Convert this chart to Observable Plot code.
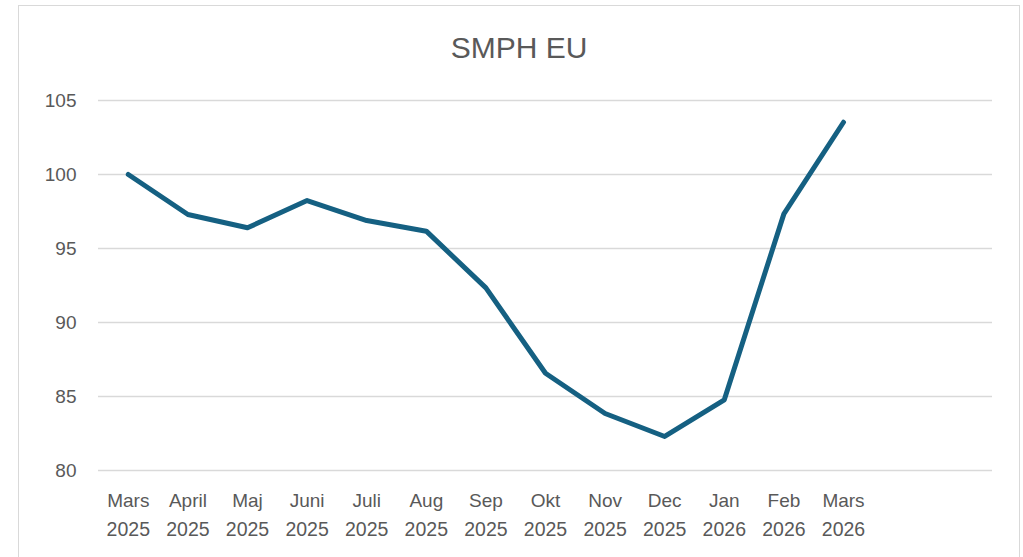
<!DOCTYPE html>
<html>
<head>
<meta charset="utf-8">
<script src="https://cdn.jsdelivr.net/npm/d3@7"></script>
<script src="https://cdn.jsdelivr.net/npm/@observablehq/plot@0.6"></script>
<style>
  html, body { margin: 0; padding: 0; background: #fff; width: 1023px; height: 557px; overflow: hidden; }
  #frame { position: absolute; left: 18px; top: 5px; width: 1002px; height: 570px; box-sizing: border-box; border: 1.5px solid #d9d9d9; background: #fff; }
  #title { position: absolute; left: 0; top: 25px; width: 1000px; text-align: center; font-family: "Liberation Sans", Arial, sans-serif; font-size: 30px; color: #595959; line-height: 34px; }
  #chart { position: absolute; left: 0; top: 65px; }
</style>
</head>
<body>
<div id="frame">
  <div id="title">SMPH EU</div>
  <div id="chart"></div>
</div>
<script>
const months = ["Mars", "April", "Maj", "Juni", "Juli", "Aug", "Sep", "Okt", "Nov", "Dec", "Jan", "Feb", "Mars"];
const years = ["2025", "2025", "2025", "2025", "2025", "2025", "2025", "2025", "2025", "2025", "2026", "2026", "2026"];
const values = [100, 97.3, 96.4, 98.24, 96.89, 96.17, 92.34, 86.57, 83.85, 82.3, 84.78, 97.34, 103.53];
const yTicks = [80, 85, 90, 95, 100, 105];
const slotCount = 15; // category axis has two trailing empty slots

const idx = months.map((_, i) => i);
const data = idx.map(i => ({i, month: months[i], year: years[i], value: values[i]}));

const font = "Liberation Sans, Arial, sans-serif";
const textColor = "#595959";

const chart = Plot.plot({
  width: 1000,
  height: 490,
  marginLeft: 79,
  marginRight: 27,
  marginTop: 29,
  marginBottom: 91,
  style: {fontFamily: font, background: "transparent", overflow: "visible"},
  x: {type: "point", domain: d3.range(slotCount), padding: 0.5, round: false, axis: null},
  y: {domain: [80, 105], axis: null},
  marks: [
    Plot.ruleY(yTicks, {stroke: "#d9d9d9", strokeWidth: 1.6}),
    Plot.text(yTicks, {y: d => d, text: d => String(d), frameAnchor: "left", textAnchor: "end", dx: -22, fontSize: 19, fill: textColor}),
    Plot.text(data, {x: "i", text: "month", frameAnchor: "bottom", dy: 36, fontSize: 19, fill: textColor}),
    Plot.text(data, {x: "i", text: "year", frameAnchor: "bottom", dy: 65, fontSize: 19.5, fill: textColor}),
    Plot.line(data, {x: "i", y: "value", stroke: "#156082", strokeWidth: 5, strokeLinejoin: "round", strokeLinecap: "round"})
  ]
});
document.getElementById("chart").appendChild(chart);
</script>
</body>
</html>
